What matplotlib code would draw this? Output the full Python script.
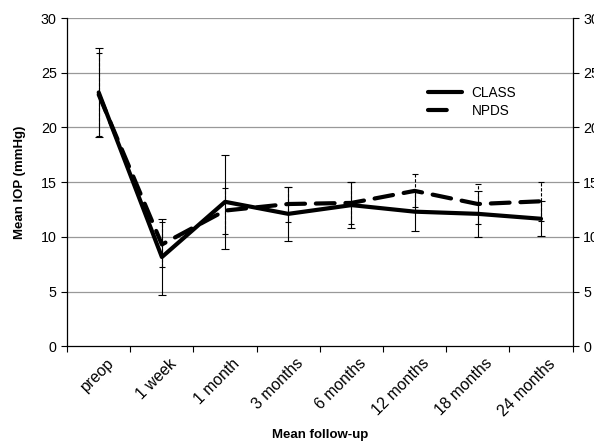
import matplotlib
matplotlib.use("Agg")
import matplotlib.pyplot as plt
import numpy as np
from matplotlib.transforms import ScaledTranslation
from matplotlib.lines import Line2D

plt.rcParams['font.family'] = ['Liberation Sans', 'DejaVu Sans']

categories = ["preop", "1 week", "1 month", "3 months", "6 months", "12 months", "18 months", "24 months"]
class_mean = [23.2, 8.15, 13.2, 12.1, 12.9, 12.3, 12.1, 11.65]
class_sd = [4.1, 3.5, 4.3, 2.5, 2.1, 1.8, 2.1, 1.6]
npds_mean = [23.0, 9.3, 12.4, 13.0, 13.1, 14.2, 13.0, 13.25]
npds_sd = [3.8, 2.1, 2.1, 1.6, 1.9, 1.5, 1.8, 1.8]
yticks = [0, 5, 10, 15, 20, 25, 30]

fig = plt.figure(figsize=(5.94, 4.41), dpi=100)
ax = fig.add_axes([0.113, 0.215, 0.851, 0.744])
x = np.arange(len(categories))

for yv in yticks[1:]:
    ax.axhline(yv, color='#999999', lw=0.9, zorder=0)

# error bars
eb1 = ax.errorbar(x, class_mean, yerr=class_sd, fmt='none', ecolor='black', elinewidth=0.8, capsize=3, capthick=0.8, zorder=2)
eb2 = ax.errorbar(x, npds_mean, yerr=npds_sd, fmt='none', ecolor='black', elinewidth=0.8, capsize=2, capthick=0.8, zorder=2)
for lc in eb2[2]:
    lc.set_linestyle((0, (3, 1.5)))

ax.plot(x, class_mean, color='black', lw=3.0, solid_capstyle='round', solid_joinstyle='round', zorder=3)
ax.plot(x, npds_mean, color='black', lw=3.0, linestyle=(0, (4.5, 2.6)), dash_capstyle='round', zorder=3)

ax.set_xlim(-0.5, len(categories) - 0.5)
ax.set_ylim(0, 30)
ax.set_yticks(yticks)
ax.set_xticks(x)
ax.set_xticklabels(categories, rotation=45, ha='right', rotation_mode='anchor', fontsize=11.3)
ax.tick_params(axis='x', length=0, pad=6)
ax.set_xticks(np.arange(-0.5, len(categories)), minor=True)
ax.tick_params(axis='x', which='minor', length=4, direction='out', width=0.8)
ax.tick_params(axis='y', length=4, direction='out', width=0.8, labelsize=10.3, right=True, labelright=True)
for lab in ax.get_xticklabels():
    lab.set_transform(lab.get_transform() + ScaledTranslation(5/72, -1/72, fig.dpi_scale_trans))

ax.spines['top'].set_visible(False)
for s in ['left', 'right', 'bottom']:
    ax.spines[s].set_linewidth(0.9)

ax.set_ylabel('Mean IOP (mmHg)', fontsize=9.5, fontweight='bold', labelpad=11)
fig.text(0.5385, 1 - 435/441, 'Mean follow-up', fontsize=9.5, fontweight='bold', ha='center', va='center')

handles = [Line2D([], [], color='black', lw=3.0, solid_capstyle='round'),
           Line2D([], [], color='black', lw=3.0, linestyle=(0, (4.5, 20)), dash_capstyle='round')]
ax.legend(handles, ['CLASS', 'NPDS'], loc='upper left', bbox_to_anchor=(0.69, 0.83), frameon=False, fontsize=9.8,
          handlelength=2.5, handletextpad=0.7, labelspacing=0.3)

fig.savefig('out.png', dpi=100)
